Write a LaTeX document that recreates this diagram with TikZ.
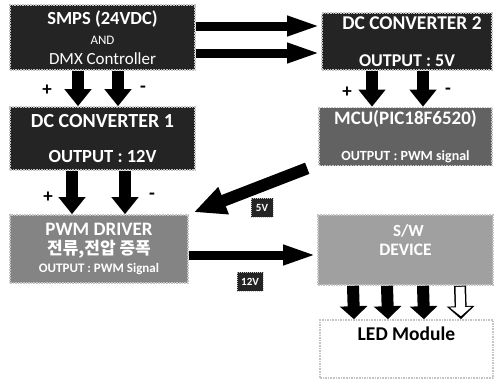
\documentclass[tikz,border=0pt]{standalone}
\usepackage{fontspec}
\setmainfont{Carlito}
\newfontfamily\kofont{Noto Sans CJK KR}
\usetikzlibrary{arrows.meta,positioning}
\definecolor{darkbox}{HTML}{242424}
\definecolor{mcubox}{HTML}{626262}
\definecolor{drvbox}{HTML}{848484}
\definecolor{swbox}{HTML}{A0A0A0}
\definecolor{rim}{HTML}{C4C4C4}

\begin{document}
\begin{tikzpicture}[x=1pt, y=-1pt,
    unit/.style={draw=rim, densely dotted, line width=1.6pt, fill=darkbox,
                 text=white, align=center, inner sep=0pt},
    lines/.style={font=\bfseries\fontsize{12}{#1}\selectfont},
    tag/.style={fill=darkbox, draw=rim, densely dotted, line width=1pt,
                text=white, font=\bfseries\fontsize{11}{12}\selectfont, inner sep=0pt},
    pol/.style={font=\bfseries\fontsize{19}{19}\selectfont},
    pwr/.style={line width=12pt, -{Triangle[width=26pt,length=17pt]}},
    sig/.style={line width=9pt, -{Triangle[width=18pt,length=34pt]}}
]
\useasboundingbox (0,0) rectangle (495,386);

% power side
\node[unit, lines=20, minimum width=185pt, minimum height=65pt] (smps) at (102.5,37.5)
  {\fontsize{18.5}{20}\selectfont SMPS (24VDC)\\
   \fontsize{13}{20}\selectfont\mdseries AND\\
   \fontsize{17}{20}\selectfont\mdseries DMX Controller};
\node[unit, lines=35, minimum width=185pt, minimum height=63pt] (dcone) at (102.5,138.5)
  {\fontsize{20}{22}\selectfont DC CONVERTER 1\\
   \fontsize{18.5}{22}\selectfont OUTPUT : 12V};
\node[unit, lines=37, minimum width=170pt, minimum height=57pt] (dctwo) at (407,41.5)
  {\fontsize{19.5}{22}\selectfont\hspace*{10pt}DC CONVERTER 2\\
   \fontsize{18}{22}\selectfont OUTPUT : 5V};
\node[unit, lines=36, fill=mcubox, minimum width=173pt, minimum height=58pt] (mcu) at (405.5,136.5)
  {\fontsize{19}{22}\selectfont MCU(PIC18F6520)\\
   \fontsize{14}{22}\selectfont OUTPUT : PWM signal};
\node[unit, lines=18.5, fill=drvbox, minimum width=178pt, minimum height=68pt] (pwm) at (99,249)
  {\fontsize{19}{19}\selectfont PWM DRIVER\\
   \kofont\fontsize{17}{19}\selectfont 전류,전압 증폭\\
   \fontsize{13}{19}\selectfont OUTPUT : PWM Signal};
\node[unit, lines=19, fill=swbox, minimum width=175pt, minimum height=70pt] (sw) at (405.5,250)
  {\fontsize{17}{19}\selectfont\hspace*{6pt}S/W\\
   \fontsize{17.5}{19}\selectfont DEVICE\\};
\node[unit, fill=white, text=black, minimum width=173pt, minimum height=58pt,
      label={[anchor=north, yshift=-4pt, font=\bfseries\fontsize{19.5}{22}\selectfont]north:LED Module}]
      (led) at (406.5,349) {};

% voltage tags
\node[tag, minimum width=22pt, minimum height=19pt] (vfive) at (262,207.5) {5V};
\node[tag, minimum width=26pt, minimum height=19pt] (vtwelve) at (250,281.5) {12V};

% polarity marks
\node[pol] (p1) at (47,90) {+};
\node[pol] (m1) at (143,89) {-};
\node[pol] (p2) at (48,197) {+};
\node[pol] (m2) at (152,196) {-};
\node[pol] (p3) at (347,92) {+};
\node[pol] (m3) at (448,91) {-};

% connectors
\draw[sig] ([yshift=11.5pt]smps.east) -- ([yshift=11.5pt]smps.east -| dctwo.west);
\draw[sig] ([yshift=-15.5pt]smps.east) -- ([yshift=-15.5pt]smps.east -| dctwo.west);
\foreach \dx in {-24.5,15.5}
  \draw[pwr] ([xshift=\dx pt]smps.south) -- ([xshift=\dx pt]dcone.north);
\foreach \dx in {-30.5,22.5}
  \draw[pwr] ([xshift=\dx pt]dcone.south) -- ([xshift=\dx pt]dcone.south |- pwm.north);
\foreach \dx in {-35,16}
  \draw[pwr] ([xshift=\dx pt]dctwo.south) -- ([xshift=\dx pt]dctwo.south |- mcu.north);
\draw[line width=12pt, -{Triangle[width=27pt,length=32pt]}]
  ([xshift=-11pt,yshift=-2pt]mcu.south west) -- ([xshift=5pt,yshift=2pt]pwm.north east);
\draw[sig] ([yshift=-6pt]pwm.east) -- ([yshift=-6pt]pwm.east -| sw.west);
\foreach \dx in {-52.5,-18.5,17.5}
  \draw[pwr, -{Triangle[width=27pt,length=13pt]}] ([xshift=\dx pt]sw.south) -- ([xshift=\dx pt]led.north);
\draw[pwr, -{Triangle[width=27pt,length=13pt]}] ([xshift=54.5pt]sw.south) -- ([xshift=54.5pt]led.north);
\draw[line width=9pt, white, -{Triangle[width=21pt,length=9pt]}, shorten <=1pt, shorten >=3pt]
  ([xshift=54.5pt]sw.south) -- ([xshift=54.5pt]led.north);
\end{tikzpicture}
\end{document}
